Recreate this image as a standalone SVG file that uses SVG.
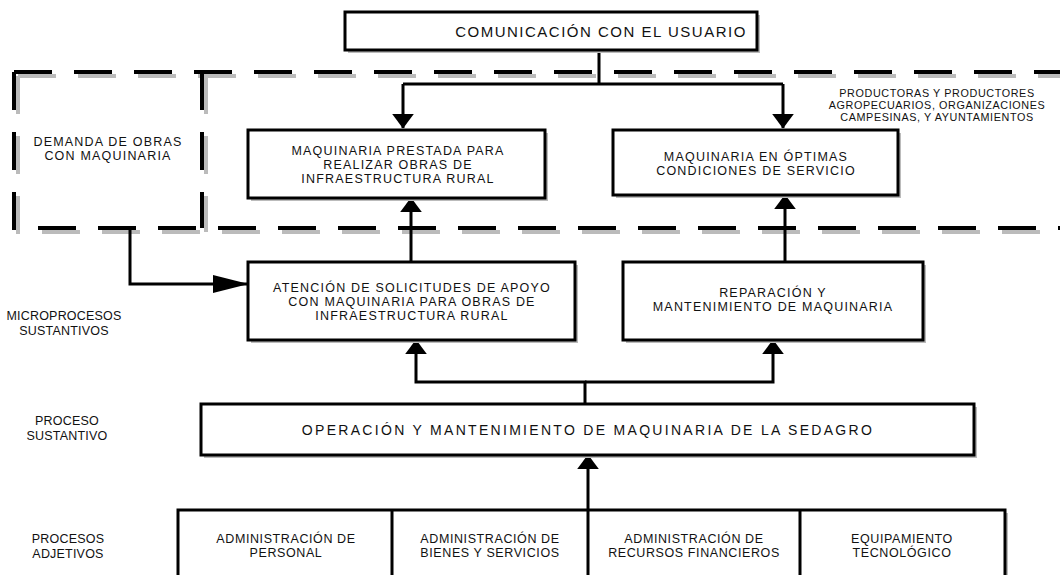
<svg xmlns="http://www.w3.org/2000/svg" width="1060" height="575" viewBox="0 0 1060 575">
<style>
.box{fill:#fff;stroke:#000;stroke-width:3}
.sh{fill:#bbb;stroke:none}
.t{font-family:"Liberation Sans",Arial,sans-serif;font-size:12.5px;letter-spacing:1.2px;fill:#111;text-anchor:middle}
.ts{font-size:10.8px;letter-spacing:0.6px}
.tl{letter-spacing:0.2px}
.tb{letter-spacing:0.6px}
.dash{fill:none;stroke:#000;stroke-width:4;stroke-dasharray:38 22}
.dsh{fill:none;stroke:#bbb;stroke-width:4;stroke-dasharray:38 22}
.ln{fill:none;stroke:#000;stroke-width:3}
</style>
<defs>
<marker id="ah" markerWidth="5" markerHeight="7.4" refX="4.8" refY="3.7" orient="auto" markerUnits="strokeWidth">
<path d="M0,0 L5,3.7 L0,7.4 Z" fill="#000"/>
</marker>
<marker id="ahl" markerWidth="12" markerHeight="6" refX="11.8" refY="3" orient="auto" markerUnits="strokeWidth">
<path d="M0,0 L12,3 L0,6 Z" fill="#000"/>
</marker>
</defs>
<rect width="1060" height="575" fill="#fff"/>

<g id="region">
<path class="dsh" d="M18,76 H1060 M18,76 V232 H1060 M206,76 V232"/>
<path class="dash" d="M14,72 H1060 M14,72 V228 H1060 M202,72 V228"/>
<text class="t" x="108" y="146">DEMANDA DE OBRAS</text>
<text class="t" x="108" y="160">CON MAQUINARIA</text>
<text class="t ts" x="937" y="97">PRODUCTORAS Y PRODUCTORES</text>
<text class="t ts" x="937" y="109">AGROPECUARIOS, ORGANIZACIONES</text>
<text class="t ts" x="937" y="121">CAMPESINAS, Y AYUNTAMIENTOS</text>
</g>

<g id="labels">
<text class="t tl" x="64" y="320">MICROPROCESOS</text>
<text class="t tl" x="64" y="335">SUSTANTIVOS</text>
<text class="t tl" x="67" y="425">PROCESO</text>
<text class="t tl" x="67" y="440">SUSTANTIVO</text>
<text class="t tl" x="68" y="543">PROCESOS</text>
<text class="t tl" x="68" y="558">ADJETIVOS</text>
</g>

<g id="connectors">
<path class="ln" d="M599,50 V84 M403,84 H783 M403,84 V128" marker-end="url(#ah)"/>
<path class="ln" d="M783,84 V128" marker-end="url(#ah)"/>
<path class="ln" d="M411,262 V198" marker-end="url(#ah)"/>
<path class="ln" d="M785,262 V195" marker-end="url(#ah)"/>
<path class="ln" d="M130,228 V284 H248" marker-end="url(#ahl)"/>
<path class="ln" d="M585,404 V382 H416 V340" marker-end="url(#ah)"/>
<path class="ln" d="M585,382 H773 V340" marker-end="url(#ah)"/>
<path class="ln" d="M588,510 V455" marker-end="url(#ah)"/>
</g>

<g id="n-comunicacion">
<rect class="sh" x="348" y="15" width="412" height="38"/>
<rect class="box" x="345" y="12" width="412" height="38"/>
<text class="t" x="601" y="37" style="font-size:15px;letter-spacing:1.5px">COMUNICACIÓN CON EL USUARIO</text>
</g>

<g id="n-prestada">
<rect class="sh" x="251" y="133" width="297" height="68"/>
<rect class="box" x="248" y="130" width="297" height="68"/>
<text class="t" x="398" y="155">MAQUINARIA PRESTADA PARA</text>
<text class="t" x="398" y="169">REALIZAR OBRAS DE</text>
<text class="t" x="398" y="183">INFRAESTRUCTURA RURAL</text>
</g>

<g id="n-optimas">
<rect class="sh" x="616" y="133" width="285" height="65"/>
<rect class="box" x="613" y="130" width="285" height="65"/>
<text class="t" x="756" y="161">MAQUINARIA EN ÓPTIMAS</text>
<text class="t" x="756" y="175">CONDICIONES DE SERVICIO</text>
</g>

<g id="n-atencion">
<rect class="sh" x="251" y="265" width="327" height="78"/>
<rect class="box" x="248" y="262" width="327" height="78"/>
<text class="t" x="412" y="292">ATENCIÓN DE SOLICITUDES DE APOYO</text>
<text class="t" x="412" y="306">CON MAQUINARIA PARA OBRAS DE</text>
<text class="t" x="412" y="320">INFRAESTRUCTURA RURAL</text>
</g>

<g id="n-reparacion">
<rect class="sh" x="626" y="265" width="300" height="78"/>
<rect class="box" x="623" y="262" width="300" height="78"/>
<text class="t" x="773" y="297">REPARACIÓN Y</text>
<text class="t" x="773" y="311">MANTENIMIENTO DE MAQUINARIA</text>
</g>

<g id="n-operacion">
<rect class="sh" x="204" y="407" width="773" height="51"/>
<rect class="box" x="201" y="404" width="773" height="51"/>
<text class="t" x="588" y="435" style="font-size:14px;letter-spacing:2.3px">OPERACIÓN Y MANTENIMIENTO DE MAQUINARIA DE LA SEDAGRO</text>
</g>

<g id="n-adjetivos">
<rect class="sh" x="181" y="513" width="827" height="70"/>
<rect class="box" x="178" y="510" width="827" height="70"/>
<path class="ln" d="M392,510 V580 M588,510 V580 M800,510 V580"/>
</g>
<g id="n-personal"><text class="t tb" x="286" y="543">ADMINISTRACIÓN DE</text><text class="t tb" x="286" y="557">PERSONAL</text></g>
<g id="n-bienes"><text class="t tb" x="490" y="543">ADMINISTRACIÓN DE</text><text class="t tb" x="490" y="557">BIENES Y SERVICIOS</text></g>
<g id="n-financieros"><text class="t tb" x="694" y="543">ADMINISTRACIÓN DE</text><text class="t tb" x="694" y="557">RECURSOS FINANCIEROS</text></g>
<g id="n-equipamiento"><text class="t tb" x="902" y="543">EQUIPAMIENTO</text><text class="t tb" x="902" y="557">TECNOLÓGICO</text></g>
</svg>
